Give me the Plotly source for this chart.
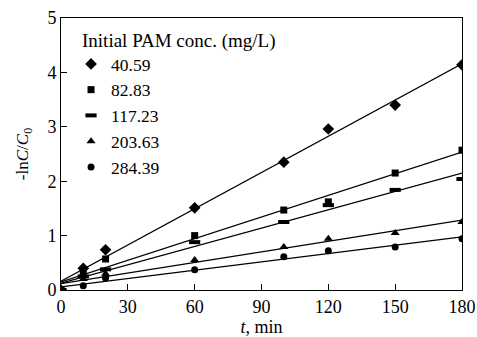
import numpy as np
import plotly.graph_objects as go

time_min = [0, 10, 20, 60, 100, 120, 150, 180]
series_names = ["40.59", "82.83", "117.23", "203.63", "284.39"]
v_40_59 = [0.0, 0.40, 0.74, 1.51, 2.35, 2.96, 3.40, 4.14]
v_82_83 = [0.0, 0.30, 0.57, 1.00, 1.47, 1.62, 2.15, 2.57]
v_117_23 = [0.0, 0.25, 0.38, 0.88, 1.25, 1.56, 1.84, 2.04]
v_203_63 = [0.0, 0.20, 0.30, 0.55, 0.79, 0.94, 1.05, 1.25]
v_284_39 = [0.0, 0.08, 0.22, 0.37, 0.61, 0.72, 0.79, 0.94]
series_values = [v_40_59, v_82_83, v_117_23, v_203_63, v_284_39]
symbols = ["diamond", "square", "line-ew-open", "triangle-up", "circle"]
sizes = [9, 7, 8, 8, 7]

font = "Liberation Serif"
fig = go.Figure()
t = np.array(time_min, dtype=float)
for name, vals, sym, sz in zip(series_names, series_values, symbols, sizes):
    y = np.array(vals)
    k, b = np.polyfit(t, y, 1)
    fig.add_trace(go.Scatter(x=[0, 180], y=[b, k * 180 + b], mode="lines",
                             line=dict(color="black", width=1.3), showlegend=False,
                             hoverinfo="skip"))
    mk = dict(symbol=sym, size=sz, color="black")
    if sym == "line-ew-open":
        mk["line"] = dict(color="black", width=4)
    fig.add_trace(go.Scatter(x=time_min, y=vals, mode="markers", name=name,
                             marker=mk))

fig.add_annotation(text="Initial PAM conc. (mg/L)", xref="paper", yref="paper",
                   x=0.047, y=0.915, xanchor="left", yanchor="middle", showarrow=False,
                   font=dict(size=19, family=font, color="black"))

fig.update_layout(
    width=477, height=337,
    margin=dict(l=61, r=15, t=18, b=47),
    paper_bgcolor="white", plot_bgcolor="white",
    font=dict(family=font, size=17, color="black"),
    legend=dict(x=0.025, y=0.897, xanchor="left", yanchor="top",
                font=dict(size=17.5, family=font), bgcolor="rgba(0,0,0,0)",
                tracegroupgap=0),
    showlegend=True,
)
fig.update_xaxes(range=[0, 180], tickvals=[0, 30, 60, 90, 120, 150, 180],
                 ticks="inside", ticklen=6, tickcolor="black", showline=True,
                 linecolor="black", linewidth=1, mirror=True, showgrid=False,
                 zeroline=False, tickfont=dict(size=18, family=font), automargin=False,
                 title=dict(text="<i>t</i>, min", font=dict(size=18, family=font), standoff=2))
fig.update_yaxes(range=[0, 5], tickvals=[0, 1, 2, 3, 4, 5],
                 ticks="inside", ticklen=6, tickcolor="black", showline=True,
                 linecolor="black", linewidth=1, mirror=True, showgrid=False,
                 zeroline=False, tickfont=dict(size=18, family=font), automargin=False,
                 title=dict(text="-ln<i>C</i>/<i>C</i><sub>0</sub>", font=dict(size=17, family=font), standoff=14))

fig.write_html("out.html", config={"displayModeBar": False},
               post_script="document.body.style.margin='0';")
